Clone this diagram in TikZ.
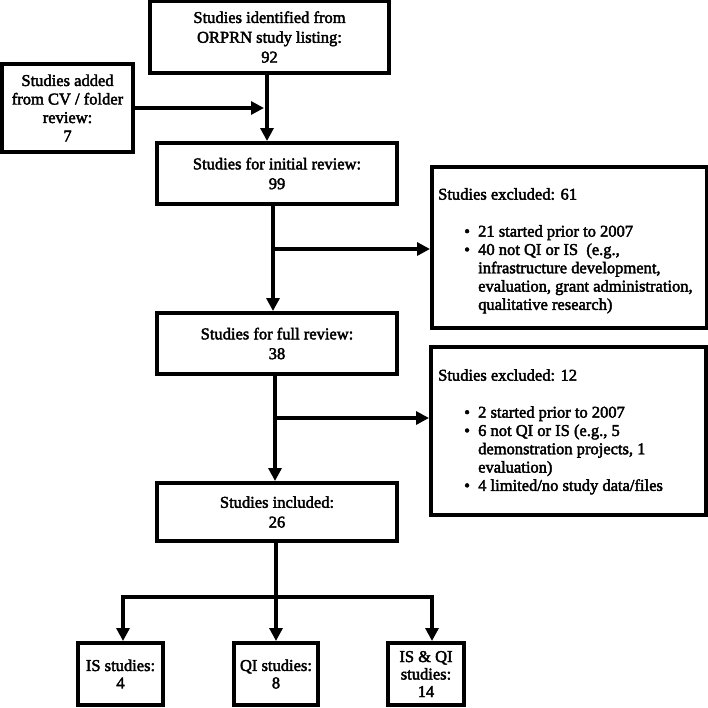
\documentclass[tikz,border=0pt]{standalone}
\usepackage{fontspec}
\setmainfont{Liberation Serif}[FakeBold=2.5]
\usetikzlibrary{arrows.meta}
\begin{document}
\begin{tikzpicture}[x=1pt,y=-1pt,
  box/.style={draw=black,line width=4pt,rectangle,inner sep=0pt,align=center,
    font=\fontsize{16.5}{19.8}\selectfont},
  small/.style={font=\fontsize{16.5}{17.5}\selectfont},
  txt/.style={inner sep=0pt,align=left,anchor=north west,
    font=\fontsize{16.5}{18.3}\selectfont},
  conn/.style={line width=3.2pt,draw=black},
  arr/.style={conn,-{Triangle[length=13pt,width=13pt]}}]
\useasboundingbox (0,0) rectangle (708,707);
% main boxes
\node[box,minimum width=239pt,minimum height=72pt] (top) at (269.5,37)
  {Studies identified from\\ORPRN study listing:\\92};
\node[box,minimum width=131pt,minimum height=88pt,font=\fontsize{16.5}{18.5}\selectfont] (add) at (67.5,108)
  {Studies added\\from CV / folder\\review:\\7};
\node[box,minimum width=240pt,minimum height=61pt] (init) at (277,173.5)
  {Studies for initial review:\\99};
\node[box,minimum width=240pt,minimum height=61pt] (full) at (277,343.5)
  {Studies for full review:\\38};
\node[box,minimum width=240pt,minimum height=58pt] (incl) at (277,512)
  {Studies included:\\26};
\node[box,minimum width=275pt,minimum height=161pt] (ex1) at (569.5,247.5) {};
\node[box,minimum width=275pt,minimum height=168pt] (ex2) at (568.5,431) {};
\node[box,small,minimum width=85pt,minimum height=62pt] (is) at (120.5,674) {IS studies:\\4};
\node[box,small,minimum width=84pt,minimum height=62pt] (qi) at (276,674) {QI studies:\\8};
\node[box,small,minimum width=76pt,minimum height=62pt] (isqi) at (426,674) {IS \& QI\\studies:\\14};
% excluded texts
\node[txt] (ex1t) at (438,188) {Studies excluded: 61\\[18.7pt]
  \hspace*{26pt}\makebox[14pt][l]{\textbullet}21 started prior to 2007\\
  \hspace*{26pt}\makebox[14pt][l]{\textbullet}40 not QI or IS\ \ (e.g.,\\
  \hspace*{40pt}infrastructure development,\\
  \hspace*{40pt}evaluation, grant administration,\\
  \hspace*{40pt}qualitative research)};
\node[txt] (ex2t) at (438,369) {Studies excluded: 12\\[18.7pt]
  \hspace*{26pt}\makebox[14pt][l]{\textbullet}2 started prior to 2007\\
  \hspace*{26pt}\makebox[14pt][l]{\textbullet}6 not QI or IS (e.g., 5\\
  \hspace*{40pt}demonstration projects, 1\\
  \hspace*{40pt}evaluation)\\
  \hspace*{26pt}\makebox[14pt][l]{\textbullet}4 limited/no study data/files};
% connectors
\coordinate (j1) at (267,108);
\coordinate (j1e) at (264,108);
\coordinate (b1) at (273,249);
\coordinate (b2) at (275,418);
\coordinate (s) at (276,597);
\coordinate (sl) at (123,597);
\coordinate (sr) at (432,597);
\draw[arr] (top.south -| j1) -- (init.north -| j1);
\draw[arr] (add.east |- j1) -- (j1e);
\draw[arr] (init.south -| b1) -- (full.north -| b1);
\draw[arr] (b1) -- (ex1.west |- b1);
\draw[arr] (full.south -| b2) -- (incl.north -| b2);
\draw[arr] (b2) -- (ex2.west |- b2);
\draw[conn] (incl.south -| s) -- (s);
\draw[conn,line cap=rect] (sl) -- (sr);
\draw[arr] (sl) -- (is.north -| sl);
\draw[arr] (s) -- (qi.north);
\draw[arr] (sr) -- (isqi.north -| sr);
\end{tikzpicture}
\end{document}
